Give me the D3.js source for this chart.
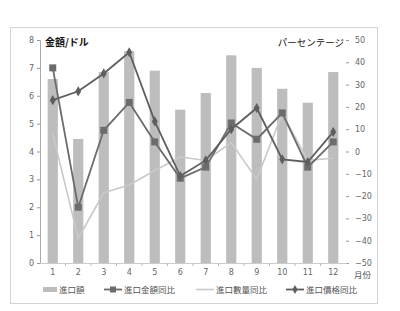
<!DOCTYPE html>
<html>
<head>
<meta charset="utf-8">
<script src="https://cdn.jsdelivr.net/npm/d3@7"></script>
<style>
  body { margin: 0; background: #fff; }
  svg { display: block; font-family: "Noto Sans CJK JP", "Noto Sans", sans-serif; }
</style>
</head>
<body>
<div id="chart"></div>
<script>
// data
var months = ['1', '2', '3', '4', '5', '6', '7', '8', '9', '10', '11', '12'];
var importAmount = [6.6, 4.45, 6.85, 7.6, 6.9, 5.5, 6.1, 7.45, 7.0, 6.25, 5.75, 6.85];
var amountYoY = [37.5, -25, 9.5, 22, 4.3, -12, -7, 12.8, 5.5, 17.3, -7, 4.3];
var volumeYoY = [8, -39, -18.5, -15, -8.5, -2.5, -4, 4, -12.5, 17, -4, -3];
var priceYoY = [23, 27, 35, 44.5, 13.5, -11, -4, 10, 19.5, -3.5, -4.7, 8.8];
var leftTicks = [0, 1, 2, 3, 4, 5, 6, 7, 8];
var rightTicks = [50, 40, 30, 20, 10, 0, -10, -20, -30, -40, -50];
var legendNames = ['進口額', '進口金額同比', '進口數量同比', '進口價格同比'];

const W = 400, H = 311;
const margin = { top: 40, right: 54, bottom: 48, left: 40 };

var svg = d3.select('#chart').append('svg')
    .attr('width', W)
    .attr('height', H);

// outer frame
svg.append('rect')
    .attr('x', 10.5).attr('y', 27.5)
    .attr('width', 367).attr('height', 276)
    .attr('fill', 'none')
    .attr('stroke', '#d4d4d4');

var x = d3.scaleBand()
    .domain(months)
    .range([margin.left, W - margin.right])
    .paddingInner(0.6)
    .paddingOuter(0.3);

var yL = d3.scaleLinear().domain([0, 8]).range([H - margin.bottom, margin.top]);
var yR = d3.scaleLinear().domain([-50, 50]).range([H - margin.bottom, margin.top]);

var cx = (i) => x(months[i]) + x.bandwidth() / 2;

// bars
svg.append('g')
  .selectAll('rect')
  .data(importAmount)
  .enter()
  .append('rect')
    .attr('x', (d, i) => x(months[i]))
    .attr('y', (d) => yL(d))
    .attr('width', x.bandwidth())
    .attr('height', (d) => yL(0) - yL(d))
    .attr('fill', '#bdbdbd');

// axes
var leftAxis = svg.append('g')
    .attr('transform', 'translate(' + margin.left + ',0)')
    .call(d3.axisLeft(yL).tickValues(leftTicks).tickSize(3).tickFormat(d3.format('d')));
var rightAxis = svg.append('g')
    .attr('transform', 'translate(' + (W - margin.right) + ',0)')
    .call(d3.axisRight(yR).tickValues(rightTicks).tickSize(3).tickPadding(6));
var bottomAxis = svg.append('g')
    .attr('transform', 'translate(0,' + (H - margin.bottom) + ')')
    .call(d3.axisBottom(x).tickSize(0).tickPadding(6));

rightAxis.select('.domain').remove();
[leftAxis, rightAxis, bottomAxis].forEach((g) => {
  g.selectAll('text').attr('fill', '#666').style('font-size', '8px').style('font-family', 'DejaVu Sans, sans-serif');
  g.selectAll('line').attr('stroke', '#999');
  g.select('.domain').attr('stroke', '#aaa');
});
bottomAxis.select('.domain').attr('stroke', '#ccc');

// little ticks between months
svg.append('g')
  .selectAll('line')
  .data(months.slice(1))
  .enter()
  .append('line')
    .attr('x1', (d) => x(d) - x.step() * 0.3)
    .attr('x2', (d) => x(d) - x.step() * 0.3)
    .attr('y1', H - margin.bottom)
    .attr('y2', H - margin.bottom + 3)
    .attr('stroke', '#bbb');

// lines
var line = d3.line()
    .x((d, i) => cx(i))
    .y((d) => yR(d));

svg.append('path').datum(volumeYoY)
    .attr('d', line).attr('fill', 'none')
    .attr('stroke', '#c9c9c9').attr('stroke-width', 1.6);

svg.append('path').datum(amountYoY)
    .attr('d', line).attr('fill', 'none')
    .attr('stroke', '#6c6c6c').attr('stroke-width', 1.8);
svg.append('g').selectAll('rect')
  .data(amountYoY).enter().append('rect')
    .attr('x', (d, i) => cx(i) - 3.5)
    .attr('y', (d) => yR(d) - 3.5)
    .attr('width', 7).attr('height', 7)
    .attr('fill', '#6c6c6c');

svg.append('path').datum(priceYoY)
    .attr('d', line).attr('fill', 'none')
    .attr('stroke', '#5e5e5e').attr('stroke-width', 1.8);
svg.append('g').selectAll('path')
  .data(priceYoY).enter().append('path')
    .attr('d', d3.symbol().type(d3.symbolDiamond).size(30))
    .attr('transform', (d, i) => 'translate(' + cx(i) + ',' + yR(d) + ')')
    .attr('fill', '#5e5e5e');

// axis titles
svg.append('text')
    .attr('x', 45).attr('y', 46)
    .style('font-size', '10px').style('font-weight', 'bold')
    .attr('fill', '#111')
    .text('金額/ドル');
svg.append('text')
    .attr('x', 344).attr('y', 46)
    .attr('text-anchor', 'end')
    .style('font-size', '9.5px')
    .attr('fill', '#111')
    .text('パーセンテージ');
svg.append('text')
    .attr('x', 354).attr('y', 278)
    .style('font-size', '8.5px')
    .attr('fill', '#555')
    .text('月份');

// legend
var legend = svg.append('g')
    .style('font-size', '8.5px');
var legendX = [43, 104, 196, 286];

legend.append('rect')
    .attr('x', legendX[0]).attr('y', 287)
    .attr('width', 14).attr('height', 5)
    .attr('fill', '#bdbdbd');

var legendLines = [
  { color: '#6c6c6c', marker: 'square', w: 1.8 },
  { color: '#c9c9c9', marker: null, w: 1.6 },
  { color: '#5e5e5e', marker: 'diamond', w: 1.8 }
];
legendLines.forEach((s, k) => {
  var lx = legendX[k + 1];
  legend.append('line')
      .attr('x1', lx).attr('x2', lx + 18)
      .attr('y1', 289.5).attr('y2', 289.5)
      .attr('stroke', s.color).attr('stroke-width', s.w);
  if (s.marker === 'square') {
    legend.append('rect')
        .attr('x', lx + 6).attr('y', 286.5)
        .attr('width', 6).attr('height', 6)
        .attr('fill', s.color);
  } else if (s.marker === 'diamond') {
    legend.append('path')
        .attr('d', d3.symbol().type(d3.symbolDiamond).size(24))
        .attr('transform', 'translate(' + (lx + 9) + ',289.5)')
        .attr('fill', s.color);
  }
});

legendNames.forEach((name, k) => {
  legend.append('text')
      .attr('x', legendX[k] + (k === 0 ? 16 : 20))
      .attr('y', 293)
      .attr('fill', '#555')
      .text(name);
});
</script>
</body>
</html>
